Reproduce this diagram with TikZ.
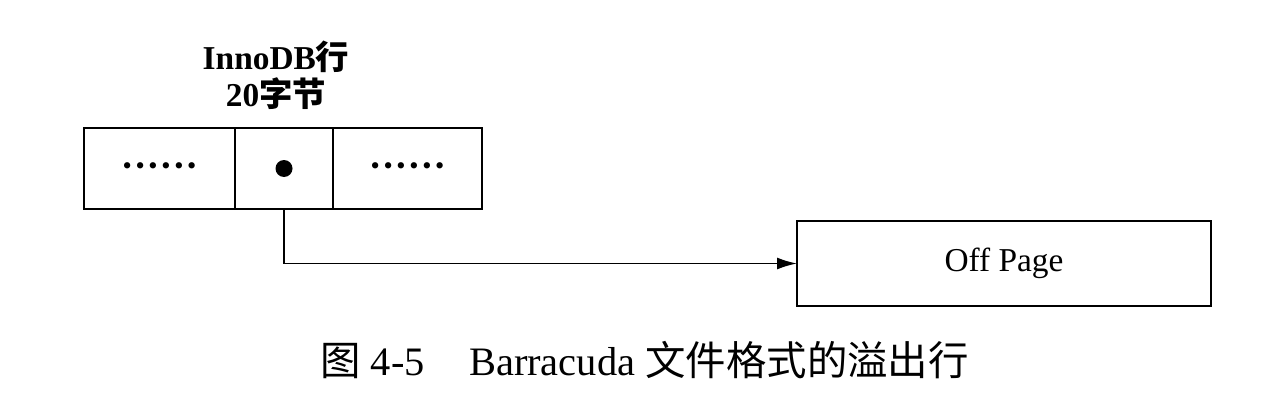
\documentclass[tikz,border=0pt]{standalone}
\usepackage{fontspec}
\setmainfont{Liberation Serif}
\newfontfamily\cjk{Noto Sans CJK SC}
\usetikzlibrary{positioning, arrows.meta}

\newcommand\rowdots{{\fontsize{15}{15}\selectfont\foreach \k in {1,...,5}{\textbullet\kern2.1pt}\textbullet}}

\begin{document}
\begin{tikzpicture}[
  cell/.style={rectangle, draw, line width=1.4pt, minimum height=1.62cm, inner sep=0pt, outer sep=0pt},
  link/.style={line width=1pt, -{Latex[length=4mm, width=2.4mm]}},
  every node/.style={font=\fontsize{19}{21}\selectfont}
]
\useasboundingbox (0,0) rectangle (25.58,8.02);
% row of the InnoDB record
\node[cell, minimum width=3.02cm] (left) at (3.19,4.65) {\rowdots};
\node[cell, minimum width=1.96cm, right=0pt of left] (mid) {};
\node[cell, minimum width=2.98cm, right=0pt of mid] (right) {\rowdots};
\node[circle, fill, inner sep=0pt, minimum size=0.34cm] (ptr) at (mid) {};
\node[align=center, font=\fontsize{19}{21}\selectfont\bfseries] (head) at (5.52,6.51)
  {InnoDB{\cjk 行}\\20{\cjk 字节}};
% overflow page
\node[cell, minimum width=8.28cm, minimum height=1.7cm] (off) at (20.08,2.75) {Off Page\hspace{0.6em}};
\draw[link] (mid.south) |- (off.west);
% caption
\node[font=\fontsize{23}{26}\selectfont] (cap) at (12.89,0.82)
  {{\cjk 图} 4-5\hspace{1.1em}Barracuda {\cjk 文件格式的溢出行}};
\end{tikzpicture}
\end{document}
